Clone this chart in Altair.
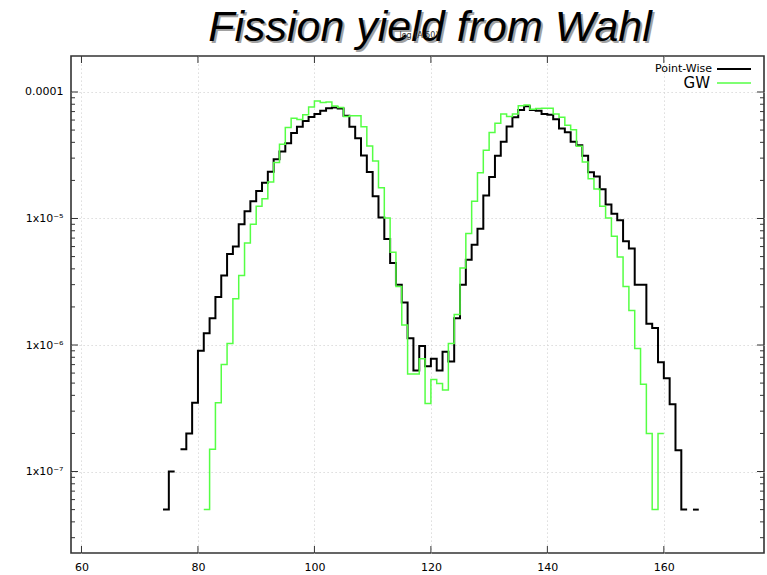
import altair as alt
import pandas as pd

# ---------------- data ----------------
pw_start = 74  # first mass number of the Point-Wise histogram
pointwise = [
    5e-8, 1e-7, None, 1.5e-7, 2e-7, 3.5e-7, 9e-7, 1.24e-6, 1.63e-6, 2.4e-6,      # 74-83
    3.55e-6, 5.25e-6, 6.0e-6, 9e-6, 1.14e-5, 1.37e-5, 1.65e-5, 1.92e-5, 2.34e-5, 2.94e-5,  # 84-93
    3.38e-5, 3.93e-5, 4.73e-5, 5.3e-5, 5.9e-5, 6.35e-5, 6.7e-5, 7.1e-5, 7.45e-5, 7.55e-5,  # 94-103
    7.4e-5, 6.5e-5, 5.3e-5, 4.3e-5, 3.15e-5, 2.33e-5, 1.5e-5, 1.02e-5, 6.9e-6, 4.45e-6,    # 104-113
    3.0e-6, 2.17e-6, 1.13e-6, 6.3e-7, 9.8e-7, 6.8e-7, 7.8e-7, 6.3e-7, 8.85e-7, 7.4e-7,     # 114-123
    1.63e-6, 3.0e-6, 4.73e-6, 6.2e-6, 8.3e-6, 1.52e-5, 2.13e-5, 3.13e-5, 4.04e-5, 5.34e-5, # 124-133
    6.3e-5, 7.2e-5, 7.7e-5, 7.2e-5, 7.1e-5, 6.7e-5, 6.6e-5, 6.1e-5, 5.15e-5, 4.8e-5,       # 134-143
    4.04e-5, 3.79e-5, 3.13e-5, 2.32e-5, 2.15e-5, 1.7e-5, 1.29e-5, 1.09e-5, 9.7e-6, 6.6e-6, # 144-153
    5.8e-6, 3.0e-6, 3.0e-6, 1.47e-6, 1.36e-6, 7.3e-7, 5.45e-7, 3.4e-7, 1.47e-7, 5e-8,      # 154-163
    None, 5e-8,                                                                            # 164-165
]

gw_start = 81  # first mass number of the GW histogram
gw = [
    5e-8, 1.5e-7, 3.5e-7, 7e-7, 1.03e-6, 2.32e-6, 3.55e-6, 6.4e-6, 9e-6, 1.25e-5,          # 81-90
    1.43e-5, 1.94e-5, 2.77e-5, 3.86e-5, 5.25e-5, 6.2e-5, 6.05e-5, 6.6e-5, 7.6e-5, 8.5e-5,  # 91-100
    8.25e-5, 8.35e-5, 7.75e-5, 7.55e-5, 6.4e-5, 6.5e-5, 6.5e-5, 5.3e-5, 3.75e-5, 2.85e-5,  # 101-110
    1.75e-5, 1.01e-5, 5.4e-6, 2.9e-6, 1.44e-6, 5.9e-7, 5.9e-7, 7.8e-7, 3.45e-7, 5.35e-7,   # 111-120
    4.97e-7, 4.4e-7, 1.03e-6, 1.74e-6, 4.06e-6, 7.6e-6, 1.37e-5, 2.3e-5, 3.46e-5, 4.79e-5, # 121-130
    5.65e-5, 6.7e-5, 6.4e-5, 6.7e-5, 7.8e-5, 7.9e-5, 7.3e-5, 7.4e-5, 7.45e-5, 7.45e-5,    # 131-140
    6.7e-5, 6.3e-5, 5.47e-5, 5.02e-5, 3.72e-5, 2.8e-5, 2.06e-5, 1.71e-5, 1.25e-5, 1.01e-5, # 141-150
    7.24e-6, 4.97e-6, 2.9e-6, 1.87e-6, 9.4e-7, 4.9e-7, 2e-7, 5e-8, 2e-7,                    # 151-159
]

x_tick_values = [60, 80, 100, 120, 140, 160]
y_major = [1e-7, 1e-6, 1e-5, 1e-4]
y_minor = [m * 10.0 ** e for e in (-8, -7, -6, -5, -4) for m in range(2, 10)]

X_DOMAIN = [58.2, 177.2]
Y_DOMAIN = [2.27e-8, 1.925e-4]
W, H = 693, 497


def step_rows(start, values, name):
    rows, seg, cur = [], 0, []
    for i, v in enumerate(values + [None]):
        a = start + i
        if v is None:
            if cur:
                rows.extend(cur)
                rows.append({"x": cur[-1]["x"] + 1, "y": cur[-1]["y"], "seg": f"{name}{seg}", "s": name})
                seg += 1
                cur = []
        else:
            cur.append({"x": a, "y": v, "seg": f"{name}{seg}", "s": name})
    return rows


df_pw = pd.DataFrame(step_rows(pw_start, pointwise, "pw"))
df_gw = pd.DataFrame(step_rows(gw_start, gw, "gw"))
df_xt = pd.DataFrame({"x": x_tick_values})
df_ymaj = pd.DataFrame({"y": [v for v in y_major if Y_DOMAIN[0] <= v <= Y_DOMAIN[1]]})
df_ymin = pd.DataFrame({"y": [v for v in y_minor if Y_DOMAIN[0] <= v <= Y_DOMAIN[1]]})
dummy = pd.DataFrame({"d": [0]})

xscale = alt.Scale(domain=X_DOMAIN, nice=False, zero=False)
yscale = alt.Scale(type="log", domain=Y_DOMAIN, nice=False)

GRID_DASH = [1.2, 2.8]
GRID_COL = "#d2d2d2"

xaxis = alt.Axis(
    values=x_tick_values, title=None, ticks=False, domain=False, grid=True,
    gridDash=GRID_DASH, gridColor=GRID_COL, labelPadding=8, labelFontSize=11,
    labelFont="DejaVu Sans", labelColor="#000",
)
label_expr = (
    "datum.value > 5e-5 ? '0.0001' : datum.value > 5e-6 ? '1x10\u207b\u2075' : "
    "datum.value > 5e-7 ? '1x10\u207b\u2076' : '1x10\u207b\u2077'"
)
yaxis = alt.Axis(
    values=y_major, title=None, ticks=False, domain=False, grid=True,
    gridDash=GRID_DASH, gridColor=GRID_COL, labelPadding=8, labelFontSize=11,
    labelFont="DejaVu Sans", labelColor="#000", labelExpr=label_expr,
)

X = alt.X("x:Q", scale=xscale, axis=xaxis)
Y = alt.Y("y:Q", scale=yscale, axis=yaxis)

black = alt.Chart(df_pw).mark_line(
    interpolate="step-after", color="#000000", strokeWidth=2
).encode(x=X, y=Y, detail="seg:N")

green = alt.Chart(df_gw).mark_line(
    interpolate="step-after", color="#55ff44", strokeWidth=1.5
).encode(x=X, y=Y, detail="seg:N")

# inward ticks (gnuplot style), bottom/top and left/right
tick_col = "#333333"
xt_bottom = alt.Chart(df_xt).mark_rule(color=tick_col, strokeWidth=1).encode(
    x=X, y=alt.value(H), y2=alt.value(H - 7))
xt_top = alt.Chart(df_xt).mark_rule(color=tick_col, strokeWidth=1).encode(
    x=X, y=alt.value(0), y2=alt.value(7))
yt_maj_l = alt.Chart(df_ymaj).mark_rule(color=tick_col, strokeWidth=1).encode(
    y=Y, x=alt.value(0), x2=alt.value(7))
yt_maj_r = alt.Chart(df_ymaj).mark_rule(color=tick_col, strokeWidth=1).encode(
    y=Y, x=alt.value(W), x2=alt.value(W - 7))
yt_min_l = alt.Chart(df_ymin).mark_rule(color=tick_col, strokeWidth=1).encode(
    y=Y, x=alt.value(0), x2=alt.value(4))
yt_min_r = alt.Chart(df_ymin).mark_rule(color=tick_col, strokeWidth=1).encode(
    y=Y, x=alt.value(W), x2=alt.value(W - 4))

# title with drop shadow
title_txt = "Fission yield from Wahl"
title_shadow = alt.Chart(dummy).mark_text(
    text=title_txt, font="Liberation Sans", fontStyle="italic", fontSize=43,
    color="#8a8a8a", opacity=0.8, align="center", baseline="alphabetic",
).encode(x=alt.value(361), y=alt.value(-13))
title_main = alt.Chart(dummy).mark_text(
    text=title_txt, font="Liberation Sans", fontStyle="italic", fontSize=43,
    color="#000000", align="center", baseline="alphabetic",
).encode(x=alt.value(359), y=alt.value(-15))
subtitle = alt.Chart(dummy).mark_text(
    text="log (A 50)", font="DejaVu Sans", fontSize=8, color="#333333",
    align="center", baseline="middle",
).encode(x=alt.value(348), y=alt.value(-20))

# legend (top right, inside the frame)
leg_pw_txt = alt.Chart(dummy).mark_text(
    text="Point-Wise", font="DejaVu Sans", fontSize=11, color="#000",
    align="right", baseline="middle",
).encode(x=alt.value(641), y=alt.value(13))
leg_pw_line = alt.Chart(dummy).mark_rule(color="#000", strokeWidth=2).encode(
    x=alt.value(646), x2=alt.value(680), y=alt.value(13))
leg_gw_txt = alt.Chart(dummy).mark_text(
    text="GW", font="DejaVu Sans", fontSize=15, color="#000",
    align="right", baseline="middle",
).encode(x=alt.value(639), y=alt.value(27))
leg_gw_line = alt.Chart(dummy).mark_rule(color="#55ff44", strokeWidth=1.5).encode(
    x=alt.value(646), x2=alt.value(680), y=alt.value(27))

chart = alt.layer(
    black, green,
    xt_bottom, xt_top, yt_maj_l, yt_maj_r, yt_min_l, yt_min_r,
    title_shadow, title_main, subtitle,
    leg_pw_txt, leg_pw_line, leg_gw_txt, leg_gw_line,
).properties(
    width=W, height=H,
    autosize=alt.AutoSizeParams(type="none"),
    padding={"left": 71, "top": 56, "right": 3, "bottom": 22},
    background="white",
).configure_view(
    stroke="#333333", strokeWidth=1.6,
)

chart.save("out.html", embed_options={"renderer": "svg", "actions": False})
